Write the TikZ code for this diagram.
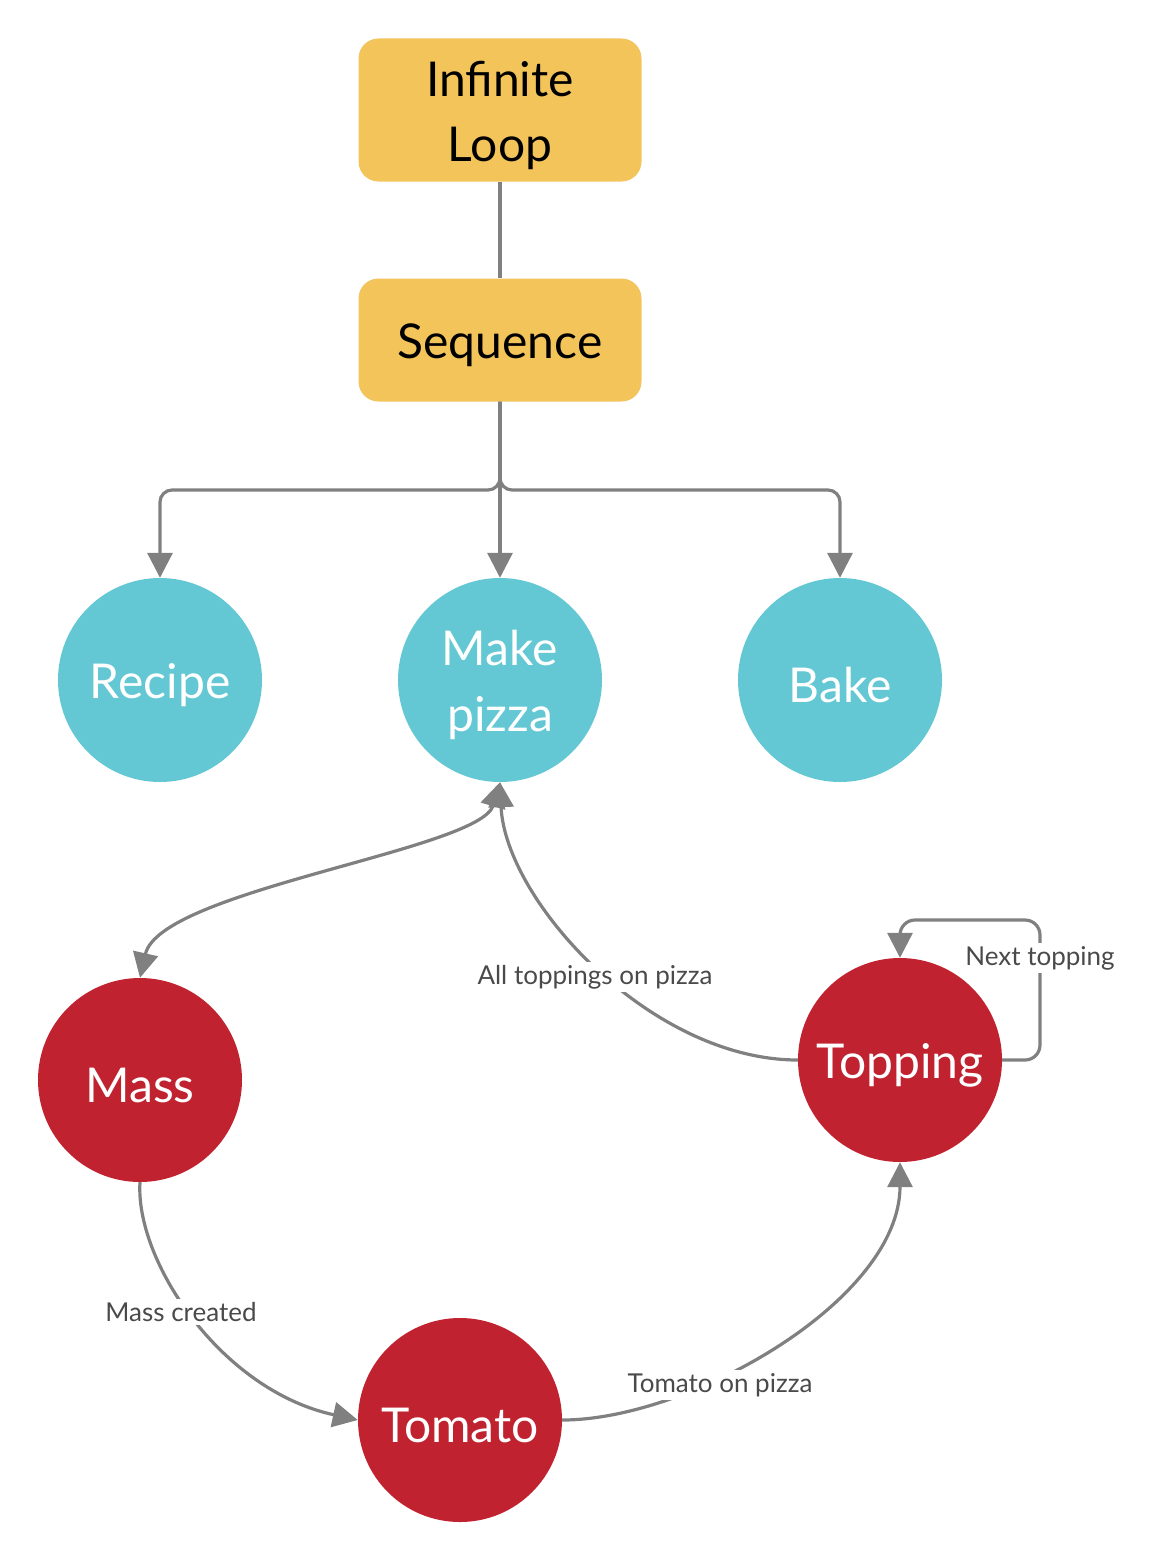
\documentclass[tikz,border=0pt]{standalone}
\usepackage{fontspec}
\setmainfont{Lato}
\usetikzlibrary{arrows.meta}
\definecolor{boxy}{HTML}{F2C45A}
\definecolor{cblue}{HTML}{63C8D4}
\definecolor{cred}{HTML}{C0222F}
\definecolor{lgray}{HTML}{808080}
\definecolor{tgray}{HTML}{4A4A4A}
\tikzset{
  ybox/.style={draw=none, fill=boxy, rounded corners=20pt, minimum width=283pt, inner sep=0pt},
  btext/.style={text=black, align=center, font=\fontsize{48}{65}\selectfont, yshift=-5pt, inner sep=0pt},
  bcirc/.style={circle, fill=cblue, minimum size=204pt, inner sep=0pt},
  rcirc/.style={circle, fill=cred, minimum size=204pt, inner sep=0pt},
  ctext/.style={text=white, align=center, font=\fontsize{48}{66}\selectfont, yshift=-5pt, inner sep=0pt},
  conn/.style={draw=lgray, line width=3.2pt},
  tip/.tip={Triangle[width=25pt,length=25pt]},
  arr/.style={-tip},
  lbl/.style={fill=white, text=tgray, font=\fontsize{26}{30}\selectfont, inner sep=3pt}
}
\begin{document}
\begin{tikzpicture}[x=1pt,y=-1pt]
\useasboundingbox (0,0) rectangle (1156,1560);
\node[ybox, minimum height=143pt, label={[btext]center:{Infinite\\Loop}}] (loop) at (500,110) {};
\node[ybox, minimum height=123pt, label={[btext]center:Sequence}] (seq) at (500,340) {};
\node[bcirc, label={[ctext]center:Recipe}] (recipe) at (160,680) {};
\node[bcirc, label={[ctext]center:{Make\\pizza}}] (make) at (500,680) {};
\node[bcirc, label={[ctext]center:Bake}] (bake) at (840,680) {};
\node[rcirc, label={[ctext]center:Mass}] (mass) at (140,1080) {};
\node[rcirc, label={[ctext]center:Topping}] (top) at (900,1060) {};
\node[rcirc, label={[ctext]center:Tomato}] (tom) at (460,1420) {};
\coordinate (br) at (500,490);
\draw[conn] (loop.south) -- (seq.north);
\draw[conn, arr, rounded corners=12pt] (seq.south) -- (br) -- (160,490) -- (recipe.north);
\draw[conn, arr, rounded corners=12pt] (seq.south) -- (br) -- (840,490) -- (bake.north);
\draw[conn, arr] (seq.south) -- (make.north);
\draw[conn, tip-tip] (make.south) .. controls (480,850) and (160,890) .. (mass.north);
\draw[conn, arr] (top.west) .. controls (650,1060) and (505,900) .. (make.south);
\draw[conn, arr, rounded corners=15pt] (top.east) -- (1040,1060) -- (1040,920) -- (900,920) -- (top.north);
\draw[conn, arr] (mass.south) .. controls (135,1260) and (220,1390) .. (tom.west);
\draw[conn, arr] (tom.east) .. controls (690,1420) and (900,1300) .. (top.south);
\node[lbl] (l1) at (595,977) {All toppings on pizza};
\node[lbl] (l2) at (1040,958) {Next topping};
\node[lbl] (l3) at (181,1312) {Mass created};
\node[lbl] (l4) at (720,1385) {Tomato on pizza};
\end{tikzpicture}
\end{document}
